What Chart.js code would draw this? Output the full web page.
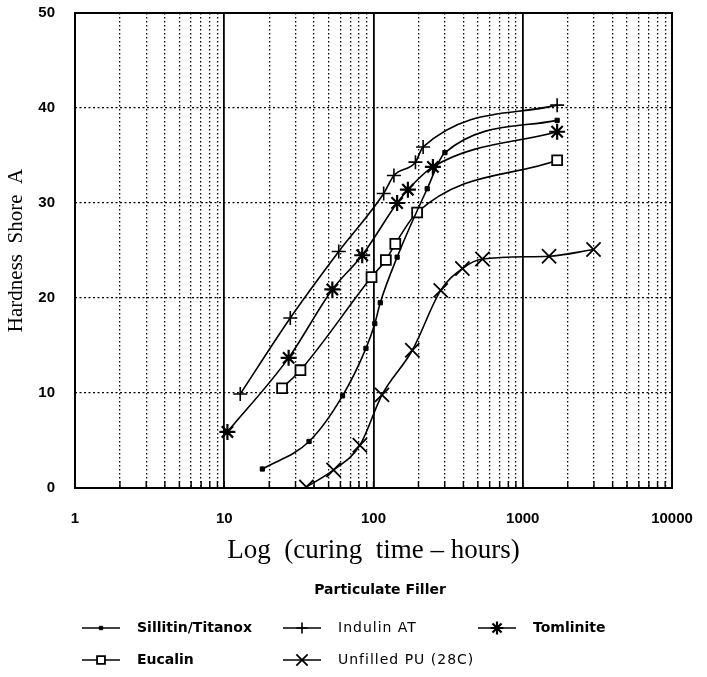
<!DOCTYPE html>
<html>
<head>
<meta charset="utf-8">
<script src="https://cdn.jsdelivr.net/npm/chart.js@4.4.1/dist/chart.umd.min.js"></script>
<style>
  html, body { margin: 0; padding: 0; background: #fff; }
</style>
</head>
<body>
<canvas id="hardnessChart" width="707" height="677"></canvas>
<script>
// curing time (hours) vs Shore A hardness
const sillitinHours = [18, 37, 62, 89, 102, 111, 144, 229, 301, 1700];
const sillitinHard  = [2.0, 4.9, 9.7, 14.7, 17.3, 19.5, 24.3, 31.5, 35.3, 38.7];

const indulinHours = [12.8, 27.7, 58.5, 117, 137, 191, 215, 1700];
const indulinHard  = [9.9, 17.9, 24.9, 31.0, 32.9, 34.3, 35.9, 40.3];

const tomliniteHours = [10.5, 27, 53, 84, 144, 170, 250, 1700];
const tomliniteHard  = [5.9, 13.7, 20.9, 24.5, 30.0, 31.4, 33.8, 37.5];

const eucalinHours = [24.4, 32.4, 97, 121, 140, 196, 1700];
const eucalinHard  = [10.5, 12.4, 22.2, 24.0, 25.7, 29.0, 34.5];

const unfilledHours = [35.5, 54, 81, 114, 182, 282, 394, 537, 1500, 2980];
const unfilledHard  = [0.1, 1.9, 4.5, 9.8, 14.5, 20.8, 23.1, 24.1, 24.4, 25.1];

const seriesNames = ['Sillitin/Titanox', 'Indulin AT', 'Tomlinite', 'Eucalin', 'Unfilled PU (28C)'];

const xGridValues = [1, 2, 3, 4, 5, 6, 7, 8, 9,
                     10, 20, 30, 40, 50, 60, 70, 80, 90,
                     100, 200, 300, 400, 500, 600, 700, 800, 900,
                     1000, 2000, 3000, 4000, 5000, 6000, 7000, 8000, 9000, 10000];
const xTickLabels = ['1', '10', '100', '1000', '10000'];
const yTickValues = [0, 10, 20, 30, 40, 50];
const legendTitle = 'Particulate Filler';

function pts(xs, ys) {
    return xs.map((x, i) => ({ x: x, y: ys[i] }));
}

function isDecade(v) {
    return xTickLabels.includes(String(v));
}

// label overflow would push the plot box in, keep it where the layout padding says
function noOverflow(scale) {
    scale.paddingTop = 0;
    scale.paddingBottom = 0;
    scale.paddingLeft = 0;
    scale.paddingRight = 0;
}

// frame box + short solid tick marks at the foot of every log grid line
const framePlugin = {
    id: 'frame',
    beforeDatasetsDraw(chart) {
        const { ctx, chartArea: a, scales: { x } } = chart;
        ctx.save();
        ctx.strokeStyle = '#000';
        ctx.lineWidth = 1.4;
        xGridValues.forEach(v => {
            const px = x.getPixelForValue(v);
            ctx.beginPath();
            ctx.moveTo(px, a.bottom);
            ctx.lineTo(px, a.bottom - 7);
            ctx.stroke();
        });
        ctx.lineWidth = 2;
        ctx.strokeRect(a.left, a.top, a.right - a.left, a.bottom - a.top);
        ctx.restore();
    }
};

// legend laid out like the original: title then two rows
const fillerLegend = {
    id: 'fillerLegend',
    afterDraw(chart) {
        const ctx = chart.ctx;
        const slots = [[82, 628], [283, 628], [478, 628], [82, 660], [283, 660]];
        const boldItem = [true, false, true, true, false];
        ctx.save();
        ctx.fillStyle = '#000';
        ctx.textBaseline = 'middle';
        ctx.textAlign = 'center';
        ctx.font = 'bold 14px "DejaVu Sans"';
        ctx.fillText(legendTitle, 380, 590);
        ctx.textAlign = 'left';
        chart.data.datasets.forEach((ds, i) => {
            const [sx, sy] = slots[i];
            ctx.strokeStyle = '#000';
            ctx.lineWidth = 1.5;
            ctx.beginPath();
            ctx.moveTo(sx, sy);
            ctx.lineTo(sx + 38, sy);
            ctx.stroke();
            ctx.fillStyle = ds.pointBackgroundColor;
            ctx.lineWidth = ds.pointBorderWidth;
            Chart.helpers.drawPoint(ctx, {
                pointStyle: ds.pointStyle,
                radius: ds.pointRadius * 0.8,
                borderWidth: ds.pointBorderWidth,
                rotation: 0
            }, sx + 19, sy);
            ctx.fillStyle = '#000';
            if (boldItem[i]) {
                ctx.font = 'bold 14px "DejaVu Sans"';
                ctx.letterSpacing = '0px';
            } else {
                ctx.font = '14px "DejaVu Sans"';
                ctx.letterSpacing = '1px';
            }
            ctx.fillText(ds.label, sx + 55, sy);
        });
        ctx.restore();
    }
};

function series(label, data, style, radius, fill, bw) {
    return {
        label: label,
        data: data,
        borderColor: '#000',
        borderWidth: 1.6,
        backgroundColor: '#000',
        pointStyle: style,
        pointRadius: radius,
        pointBorderColor: '#000',
        pointBackgroundColor: fill,
        pointBorderWidth: bw,
        cubicInterpolationMode: 'monotone',
        fill: false
    };
}

const ctx = document.getElementById('hardnessChart').getContext('2d');

new Chart(ctx, {
    type: 'line',
    data: {
        datasets: [
            series(seriesNames[0], pts(sillitinHours, sillitinHard), 'rect', 3, '#000', 1),
            series(seriesNames[1], pts(indulinHours, indulinHard), 'cross', 7, '#000', 1.6),
            series(seriesNames[2], pts(tomliniteHours, tomliniteHard), 'star', 8, '#000', 2.2),
            series(seriesNames[3], pts(eucalinHours, eucalinHard), 'rect', 7, '#fff', 1.8),
            series(seriesNames[4], pts(unfilledHours, unfilledHard), 'crossRot', 10, '#000', 1.8)
        ]
    },
    options: {
        responsive: false,
        animation: false,
        layout: { padding: { top: 13, right: 35, left: 0, bottom: 0 } },
        plugins: {
            legend: { display: false },
            tooltip: { enabled: false }
        },
        scales: {
            x: {
                type: 'logarithmic',
                min: 1,
                max: 10000,
                afterBuildTicks: scale => {
                    scale.ticks = xGridValues.map(v => ({ value: v, major: isDecade(v) }));
                },
                afterFit: scale => { scale.height = 189; noOverflow(scale); },
                ticks: {
                    autoSkip: false,
                    maxRotation: 0,
                    padding: 22,
                    color: '#000',
                    font: { family: 'Liberation Sans', weight: 'bold', size: 15 },
                    callback: v => (isDecade(v) ? String(v) : '')
                },
                grid: {
                    drawTicks: false,
                    color: '#000',
                    lineWidth: c => (c.tick && isDecade(c.tick.value) ? 1.8 : 1.3)
                },
                border: {
                    display: false,
                    dash: c => (c.tick && isDecade(c.tick.value) ? [] : [1.5, 2.5])
                },
                title: {
                    display: true,
                    text: 'Log  (curing  time \u2013 hours)',
                    color: '#000',
                    font: { family: 'Liberation Serif', size: 27 },
                    padding: { top: 0, bottom: 110 }
                }
            },
            y: {
                min: 0,
                max: 50,
                afterBuildTicks: scale => {
                    scale.ticks = yTickValues.map(v => ({ value: v }));
                },
                afterFit: scale => { scale.width = 75; noOverflow(scale); },
                ticks: {
                    padding: 20,
                    color: '#000',
                    font: { family: 'Liberation Sans', weight: 'bold', size: 15 }
                },
                grid: {
                    drawTicks: false,
                    color: '#000',
                    lineWidth: 1.3
                },
                border: {
                    display: false,
                    dash: [2, 2.5]
                },
                title: {
                    display: true,
                    text: 'Hardness  Shore  A',
                    color: '#000',
                    font: { family: 'Liberation Serif', size: 21 },
                    padding: { top: 4, bottom: 0 }
                }
            }
        }
    },
    plugins: [framePlugin, fillerLegend]
});
</script>
</body>
</html>
